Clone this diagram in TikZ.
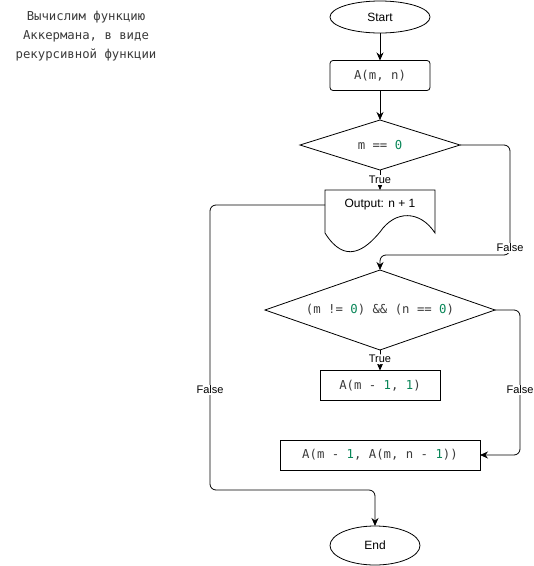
\documentclass[tikz,border=0pt]{standalone}
\usepackage{fontspec}
\setmainfont{Liberation Sans}
\newfontfamily\codefont{DejaVu Sans Mono}
\usetikzlibrary{shapes.geometric,arrows.meta}
\definecolor{codegray}{HTML}{3B3B3B}
\definecolor{codegreen}{HTML}{098658}
\newcommand{\cn}[1]{\textcolor{codegreen}{#1}}
\tikzset{
  x=1pt,y=-1pt,
  every node/.style={inner sep=0pt,outer sep=0pt},
  term/.style={draw,ellipse,line width=0.8pt,font=\fontsize{12}{14}\selectfont},
  proc/.style={draw,rectangle,line width=0.8pt,font=\codefont\fontsize{12.3}{14}\selectfont\color{codegray}},
  dec/.style={draw,diamond,line width=0.8pt,font=\codefont\fontsize{12.3}{14}\selectfont\color{codegray}},
  conn/.style={line width=0.8pt,rounded corners=6pt,-{Stealth[length=8pt,width=7pt]}},
  lbl/.style={fill=white,inner sep=1pt,font=\fontsize{11}{12}\selectfont},
  note/.style={align=center,font=\codefont\fontsize{12.3}{19}\selectfont\color{codegray}}
}
\begin{document}
\begin{tikzpicture}
\useasboundingbox (0,0) rectangle (534,566);
\node[note] (title) at (86,36) {Вычислим функцию\\Аккермана, в виде\\рекурсивной функции};
\node[term,minimum width=100,minimum height=32] (start) at (380,17) {Start};
\node[proc,rounded corners=3pt,minimum width=100,minimum height=30] (amn) at (380,75.5) {A(m, n)};
\node[dec,aspect=3.2,minimum width=160,minimum height=50] (d1) at (380,145) {m == \cn{0}};
\node[minimum width=110,minimum height=30,anchor=north,font=\fontsize{12}{14}\selectfont] (out) at (380,190) {\raisebox{3pt}{Output: n + 1}};
\draw[line width=0.8pt] (out.south west) -- (out.north west) -- (out.north east) -- (out.south east) -- (435,233)
  .. controls (420,210) and (395,210) .. (380,232)
  .. controls (365,250) and (345,265) .. (325,233) -- (out.south west);
\node[dec,aspect=2.875,minimum width=230,minimum height=80] (d2) at (380,310) {(m != \cn{0}) \&\& (n == \cn{0})};
\node[proc,minimum width=120,minimum height=30] (b1) at (380,385.5) {A(m - \cn{1}, \cn{1})};
\node[proc,minimum width=200,minimum height=30] (b3) at (380,455) {A(m - \cn{1}, A(m, n - \cn{1}))};
\node[term,minimum width=90,minimum height=39] (end) at (375,545.5) {End};

\draw[conn] (start) -- (amn);
\draw[conn] (amn) -- (d1);
\draw[conn] (d1.south) -- node[lbl] (t1) {True} (out.north);
\draw[conn] (d1.east) -- (510,145) -- (510,255) -- (380,255) -- (d2.north);
\node[lbl] (f1) at (510,248) {False};
\draw[conn] (d2.south) -- node[lbl,pos=0.45] (t2) {True} (b1.north);
\draw[conn] (d2.east) -- (520,310) -- (520,455) -- (b3.east);
\node[lbl] (f2) at (520,390) {False};
\draw[conn] (out.west) -- (210,205) -- (210,490) -- (375,490) -- (end.north);
\node[lbl] (f3) at (210,390) {False};
\end{tikzpicture}
\end{document}
